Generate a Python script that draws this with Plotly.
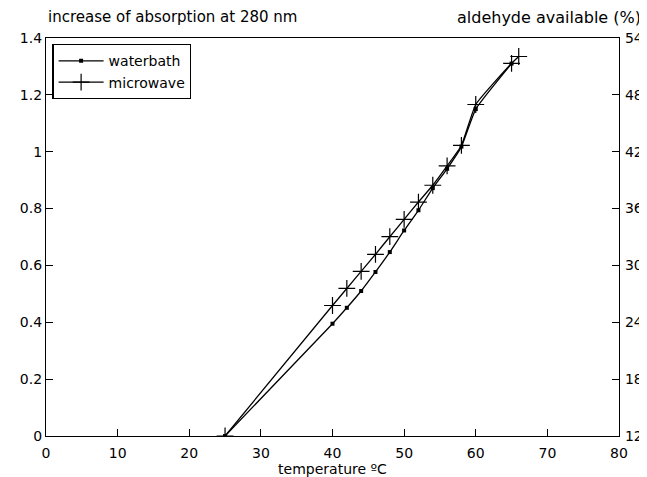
import plotly.graph_objects as go

# Data
temp_water = [25, 40, 42, 44, 46, 48, 50, 52, 54, 56, 58, 60, 65]
abs_water = [0.0, 0.395, 0.451, 0.510, 0.577, 0.647, 0.723, 0.794, 0.872, 0.940, 1.018, 1.150, 1.310]

temp_micro = [25, 40, 42, 44, 46, 48, 50, 52, 54, 56, 58, 60, 65, 66]
abs_micro = [0.0, 0.459, 0.519, 0.579, 0.639, 0.701, 0.762, 0.823, 0.882, 0.950, 1.022, 1.166, 1.311, 1.335]

x_ticks = [0, 10, 20, 30, 40, 50, 60, 70, 80]
y_ticks = [0, 0.2, 0.4, 0.6, 0.8, 1, 1.2, 1.4]
y_tick_text = ["0", "0.2", "0.4", "0.6", "0.8", "1", "1.2", "1.4"]
y2_ticks = [12, 18, 24, 30, 36, 42, 48, 54]

FONT = "DejaVu Sans"

fig = go.Figure()
fig.add_trace(go.Scatter(
    x=temp_water, y=abs_water, name="waterbath", mode="lines+markers",
    line=dict(color="black", width=1.3, shape="spline", smoothing=0.4),
    marker=dict(symbol="square", size=4, color="black"),
))
fig.add_trace(go.Scatter(
    x=temp_micro, y=abs_micro, name="microwave", mode="lines+markers",
    line=dict(color="black", width=1.3, shape="spline", smoothing=0.4),
    marker=dict(symbol="cross-thin", size=12, line=dict(color="black", width=1.2)),
))
# empty trace so the right-hand axis is drawn
fig.add_trace(go.Scatter(x=[None], y=[None], yaxis="y2", showlegend=False,
                         hoverinfo="skip", mode="lines"))

fig.update_layout(
    width=647, height=477,
    margin=dict(l=35, r=34, t=30, b=45),
    paper_bgcolor="white", plot_bgcolor="white",
    font=dict(family=FONT, size=14, color="black"),
    showlegend=True,
    legend=dict(
        x=0.011, y=0.985, xanchor="left", yanchor="top",
        bordercolor="black", borderwidth=1.3, bgcolor="white",
        font=dict(family=FONT, size=14), tracegroupgap=0,
        itemwidth=45,
    ),
    xaxis=dict(
        range=[0, 80], tickvals=x_ticks, ticks="inside", ticklen=7,
        tickcolor="black", showline=True, linecolor="black", linewidth=1.3,
        mirror=True, showgrid=False, zeroline=False, ticklabelstandoff=4,
        title=dict(text="temperature ºC", standoff=2, font=dict(size=14)),
    ),
    yaxis=dict(
        range=[0, 1.4], tickvals=y_ticks, ticktext=y_tick_text,
        ticks="inside", ticklen=7, tickcolor="black",
        showline=True, linecolor="black", linewidth=1.3,
        showgrid=False, zeroline=False,
    ),
    yaxis2=dict(
        range=[12, 54], tickvals=y2_ticks, overlaying="y", side="right",
        ticks="inside", ticklen=7, tickcolor="black",
        showline=True, linecolor="black", linewidth=1.3,
        showgrid=False, zeroline=False, ticklabelstandoff=2,
    ),
    annotations=[
        dict(text="increase of absorption at 280 nm", xref="paper", yref="paper",
             x=0, y=1.0, yshift=21, xanchor="left", yanchor="middle",
             showarrow=False, font=dict(size=15)),
        dict(text="aldehyde available (%)", xref="paper", yref="paper",
             x=1, y=1.0, yshift=21, xshift=24, xanchor="right", yanchor="middle",
             showarrow=False, font=dict(size=16)),
    ],
)

fig.write_html("out.html")
